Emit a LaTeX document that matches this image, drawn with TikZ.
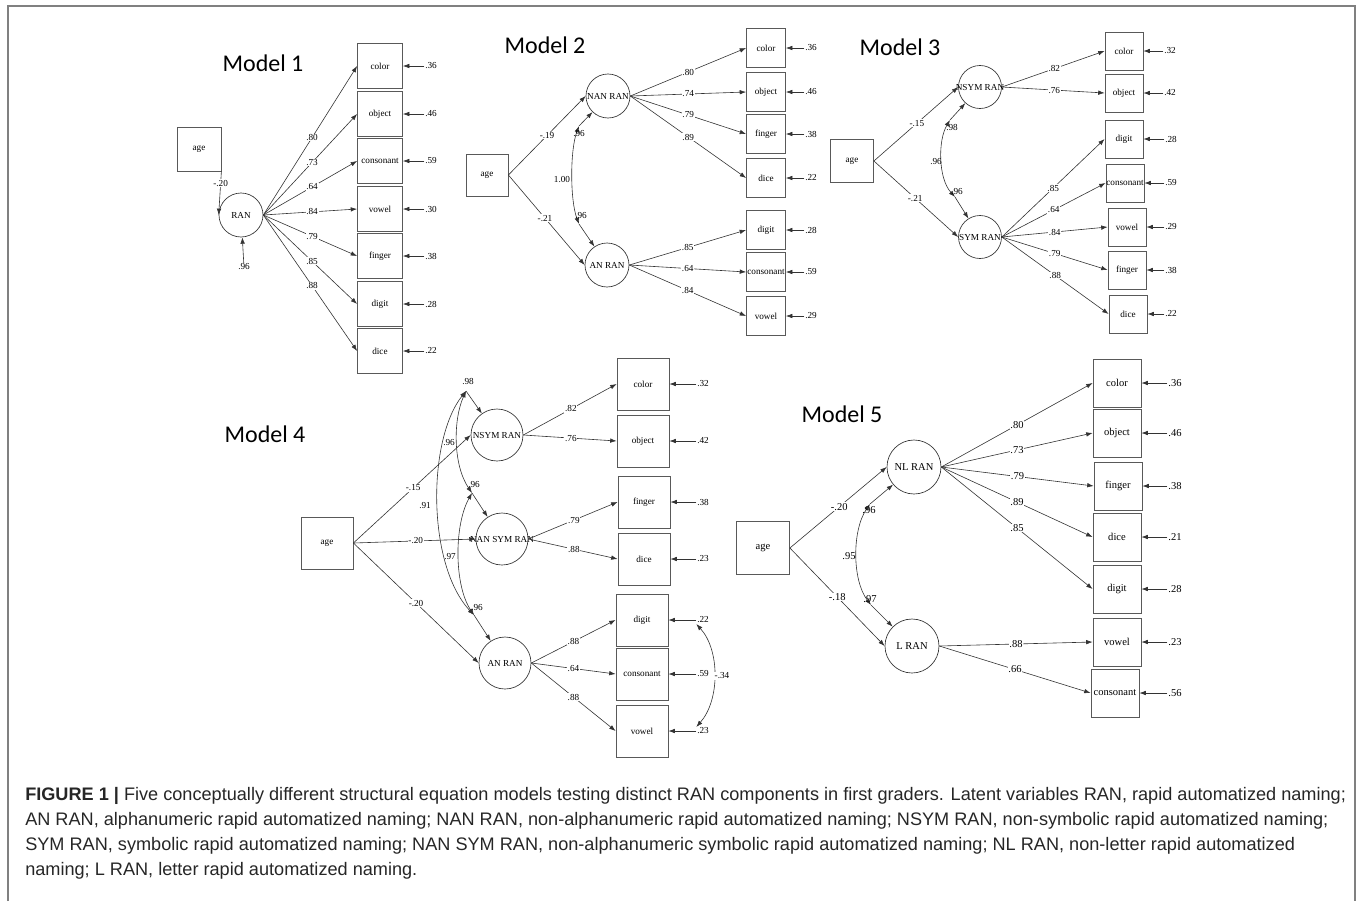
\documentclass[tikz,border=0pt]{standalone}
\usepackage{fontspec}
\setmainfont{Liberation Serif}
\newfontfamily\ttlfont{Carlito}
\newfontfamily\capfont{Liberation Sans}
\usetikzlibrary{arrows.meta}
\newcommand\zwbox[1]{\makebox[0pt]{#1}}
\tikzset{
  ln/.style={draw=black!80, line width=0.45pt},
  arr/.style={ln, -{Latex[length=4.8pt,width=3.4pt]}},
  dbl/.style={ln, {Latex[length=4.8pt,width=3.4pt]}-{Latex[length=4.8pt,width=3.4pt]}},
  smallf/.style={font=\fontsize{6.9pt}{8pt}\selectfont},
  bigf/.style={font=\fontsize{7.9pt}{9pt}\selectfont},
  obs/.style={draw=black!65, line width=0.6pt, minimum width={#1*0.75pt}, minimum height={#1*0.75pt}, inner sep=0pt, smallf},
  lat/.style={circle, draw=black!80, line width=0.5pt, minimum size={#1*0.75pt}, inner sep=0pt, smallf},
  num/.style={smallf, fill=white, inner sep=0.5pt},
  ttl/.style={font=\ttlfont\fontsize{18pt}{20pt}\selectfont, anchor=base, inner sep=0pt},
  captxt/.style={font=\capfont\fontsize{13.6pt}{16pt}\selectfont, anchor=base west, text=black!85, inner sep=0pt},
}
\begin{document}
\begin{tikzpicture}[x=0.75pt,y=-0.75pt]
\useasboundingbox (0,0) rectangle (1357,901);
\draw[draw=black!50, line width=1.5pt] (8,901) -- (8,6) -- (1355,6) -- (1355,901);

% ---------------- Model 1
\node[ttl] (m1t) at (263,71) {Model 1};
\node[obs=44] (m1a) at (199,149) {age};
\node[lat=44] (m1r) at (241,215) {\zwbox{RAN}};
\draw[arr] (m1a.south east) -- (m1r.west) node[num,pos=0.27] {-.20};
\node[num] (m1u) at (244,267) {.96};
\draw[arr] (m1u) -- (m1r);
\foreach \n/\t/\y/\l/\e in {c/color/66/.80/.36, o/object/114/.73/.46, k/consonant/161/.64/.59, v/vowel/209/.84/.30, f/finger/256/.79/.38, d/digit/304/.85/.28, i/dice/351/.88/.22} {
  \node[obs=45] (m1\n) at (380,\y) {\zwbox{\t}};
  \node[num] (m1e\n) at (431,\y) {\e};
  \draw[arr] (m1e\n) -- (m1\n);
  \draw[arr] (m1r.east) -- (m1\n.west) node[num,pos=0.52] {\l};
}

% ---------------- Model 2
\node[ttl] (m2t) at (545,53) {Model 2};
\node[obs=42] (m2a) at (487,175) {age};
\node[lat=44] (m2n) at (608,96) {\zwbox{NAN RAN}};
\node[lat=44] (m2l) at (607,265) {\zwbox{AN RAN}};
\draw[arr] (m2a.east) -- (m2n.west) node[num,pos=0.5] {-.19};
\draw[arr] (m2a.east) -- (m2l.west) node[num,pos=0.48] {-.21};
\foreach \n/\t/\y/\l/\e in {c/color/48/.80/.36, o/object/92/.74/.46, f/finger/134/.79/.38, i/dice/178/.89/.22} {
  \node[obs=39] (m2\n) at (766,\y) {\zwbox{\t}};
  \node[num] (m2e\n) at (811,\y) {\e};
  \draw[arr] (m2e\n) -- (m2\n);
  \draw[arr] (m2n.east) -- (m2\n.west) node[num,pos=0.5] {\l};
}
\foreach \n/\t/\y/\l/\e in {d/digit/230/.85/.28, k/consonant/272/.64/.59, v/vowel/316/.84/.29} {
  \node[obs=39] (m2\n) at (766,\y) {\zwbox{\t}};
  \node[num] (m2e\n) at (811,\y) {\e};
  \draw[arr] (m2e\n) -- (m2\n);
  \draw[arr] (m2l.east) -- (m2\n.west) node[num,pos=0.5] {\l};
}
\coordinate (m2j1) at (579,126);
\coordinate (m2j2) at (579,224);
\draw[arr] (m2j1) -- (m2n);
\draw[arr] (m2j2) -- (m2l);
\draw[dbl] (m2j1) .. controls (570,150) and (570,200) .. (m2j2);
\node[smallf] (m2v1) at (579,134) {.96};
\node[smallf] (m2v2) at (581,216) {.96};
\node[smallf] (m2c) at (562,179) {1.00};

% ---------------- Model 3
\node[ttl] (m3t) at (900,55) {Model 3};
\node[obs=43] (m3a) at (852,161) {age};
\node[lat=43] (m3n) at (980,87) {\zwbox{NSYM RAN}};
\node[lat=43] (m3s) at (980,237) {\zwbox{SYM RAN}};
\draw[arr] (m3a.east) -- (m3n.west) node[num,pos=0.51] {-.15};
\draw[arr] (m3a.east) -- (m3s.west) node[num,pos=0.49] {-.21};
\foreach \n/\t/\x/\y/\l/\e in {c/color/1124/51/.82/.32, o/object/1124/93/.76/.42} {
  \node[obs=38] (m3\n) at (\x,\y) {\zwbox{\t}};
  \node[num] (m3e\n) at (1170,\y) {\e};
  \draw[arr] (m3e\n) -- (m3\n);
  \draw[arr] (m3n.east) -- (m3\n.west) node[num,pos=0.51] {\l};
}
\foreach \n/\t/\x/\y/\l/\e in {d/digit/1124/139/.85/.28, k/consonant/1125/183/.64/.59, v/vowel/1127/227/.84/.29, f/finger/1127/270/.79/.38, i/dice/1128/314/.88/.22} {
  \node[obs=38] (m3\n) at (\x,\y) {\zwbox{\t}};
  \node[num] (m3e\n) at (1171,\y) {\e};
  \draw[arr] (m3e\n) -- (m3\n);
  \draw[arr] (m3s.east) -- (m3\n.west) node[num,pos=0.5] {\l};
}
\coordinate (m3j1) at (950,120);
\coordinate (m3j2) at (955,197);
\draw[arr] (m3j1) -- (m3n);
\draw[arr] (m3j2) -- (m3s);
\draw[dbl] (m3j1) .. controls (938,140) and (938,178) .. (m3j2);
\node[smallf] (m3v1) at (952,127) {.98};
\node[smallf] (m3c) at (936,162) {.96};
\node[smallf] (m3v2) at (957,192) {.96};

% ---------------- Model 4
\node[ttl] (m4t) at (265,442) {Model 4};
\node[obs=52] (m4a) at (327,543) {age};
\node[lat=52] (m4n) at (497,435) {\zwbox{NSYM RAN}};
\node[lat=52] (m4m) at (502,539) {\zwbox{NAN SYM RAN}};
\node[lat=52] (m4l) at (505,663) {\zwbox{AN RAN}};
\draw[arr] (m4a.east) -- (m4n.west) node[num,pos=0.51] {-.15};
\draw[arr] (m4a.east) -- (m4m.west) node[num,pos=0.51] {-.20};
\draw[arr] (m4a.east) -- (m4l.west) node[num,pos=0.5] {-.20};
\foreach \n/\t/\x/\y/\l/\e in {c/color/643/384/.82/.32, o/object/643/441/.76/.42} {
  \node[obs=52] (m4\n) at (\x,\y) {\zwbox{\t}};
  \node[num] (m4e\n) at (703,\y) {\e};
  \draw[arr] (m4e\n) -- (m4\n);
  \draw[arr] (m4n.east) -- (m4\n.west) node[num,pos=0.51] {\l};
}
\foreach \n/\t/\x/\y/\l/\e in {f/finger/644/502/.79/.38, i/dice/644/559/.88/.23} {
  \node[obs=52] (m4\n) at (\x,\y) {\zwbox{\t}};
  \node[num] (m4e\n) at (703,\y) {\e};
  \draw[arr] (m4e\n) -- (m4\n);
  \draw[arr] (m4m.east) -- (m4\n.west) node[num,pos=0.51] {\l};
}
\foreach \n/\t/\x/\y/\l/\e in {d/digit/642/620/.88/.22, k/consonant/642/674/.64/.59, v/vowel/642/731/.88/.23} {
  \node[obs=52] (m4\n) at (\x,\y) {\zwbox{\t}};
  \node[num] (m4e\n) at (703,\y) {\e};
  \draw[arr] (m4e\n) -- (m4\n);
  \draw[arr] (m4l.east) -- (m4\n.west) node[num,pos=0.5] {\l};
}
\draw[dbl] (m4ed.south west) .. controls (720,650) and (720,700) .. (m4ev.north west);
\node[num] (m4cov) at (722,676) {-.34};
\coordinate (m4j1) at (466,391);
\coordinate (m4j2) at (472,493);
\coordinate (m4j3) at (474,615);
\draw[arr] (m4j1) -- (m4n);
\draw[arr] (m4j2) -- (m4m);
\draw[arr] (m4j3) -- (m4l);
\draw[dbl] (m4j1) .. controls (453,420) and (453,465) .. (m4j2);
\draw[dbl] (m4j2) .. controls (454,525) and (454,585) .. (m4j3);
\draw[dbl] (m4j1) .. controls (427,440) and (427,565) .. (m4j3);
\node[smallf] (m4v1) at (468,381) {.98};
\node[smallf] (m4v2) at (474,485) {.96};
\node[smallf] (m4v3) at (477,608) {.96};
\node[smallf] (m4c12) at (449,443) {.96};
\node[smallf] (m4c23) at (450,557) {.97};
\node[smallf] (m4c13) at (425,506) {.91};

% ---------------- Model 5
\node[ttl] (m5t) at (842,422) {Model 5};
\node[obs=53, bigf] (m5a) at (763,548) {age};
\node[lat=54, bigf] (m5n) at (914,467) {\zwbox{NL RAN}};
\node[lat=54, bigf] (m5l) at (912,646) {\zwbox{L RAN}};
\draw[arr] (m5a.east) -- (m5n.west) node[num,bigf,pos=0.51] {-.20};
\draw[arr] (m5a.east) -- (m5l.west) node[num,bigf,pos=0.5] {-.18};
\foreach \n/\t/\x/\y/\l/\e in {c/color/1117/383/.80/.36, o/object/1117/433/.73/.46, f/finger/1118/486/.79/.38, i/dice/1117/537/.89/.21, d/digit/1117/589/.85/.28} {
  \node[obs=48, bigf] (m5\n) at (\x,\y) {\zwbox{\t}};
  \node[num, bigf] (m5e\n) at (1175,\y) {\e};
  \draw[arr] (m5e\n) -- (m5\n);
  \draw[arr] (m5n.east) -- (m5\n.west) node[num,bigf,pos=0.5] {\l};
}
\foreach \n/\t/\x/\y/\l/\e in {v/vowel/1117/642/.88/.23, k/consonant/1115/693/.66/.56} {
  \node[obs=48, bigf] (m5\n) at (\x,\y) {\zwbox{\t}};
  \node[num, bigf] (m5e\n) at (1175,\y) {\e};
  \draw[arr] (m5e\n) -- (m5\n);
  \draw[arr] (m5l.east) -- (m5\n.west) node[num,bigf,pos=0.5] {\l};
}
\coordinate (m5j1) at (870,504);
\coordinate (m5j2) at (871,605);
\draw[arr] (m5j1) -- (m5n);
\draw[arr] (m5j2) -- (m5l);
\draw[dbl] (m5j1) .. controls (852,530) and (852,580) .. (m5j2);
\node[bigf] (m5v1) at (869,510) {.96};
\node[bigf] (m5v2) at (870,599) {.97};
\node[bigf] (m5c) at (849,556) {.95};

% ---------------- Caption
\node[captxt] (cap1) at (25,800) {\textbf{FIGURE 1 |} Five conceptually different structural equation models testing distinct RAN components in first graders. Latent variables RAN, rapid automatized naming;};
\node[captxt] (cap2) at (25,825) {AN RAN, alphanumeric rapid automatized naming; NAN RAN, non-alphanumeric rapid automatized naming; NSYM RAN, non-symbolic rapid automatized naming;};
\node[captxt] (cap3) at (25,850) {SYM RAN, symbolic rapid automatized naming; NAN SYM RAN, non-alphanumeric symbolic rapid automatized naming; NL RAN, non-letter rapid automatized};
\node[captxt] (cap4) at (25,875) {naming; L RAN, letter rapid automatized naming.};
\end{tikzpicture}
\end{document}
